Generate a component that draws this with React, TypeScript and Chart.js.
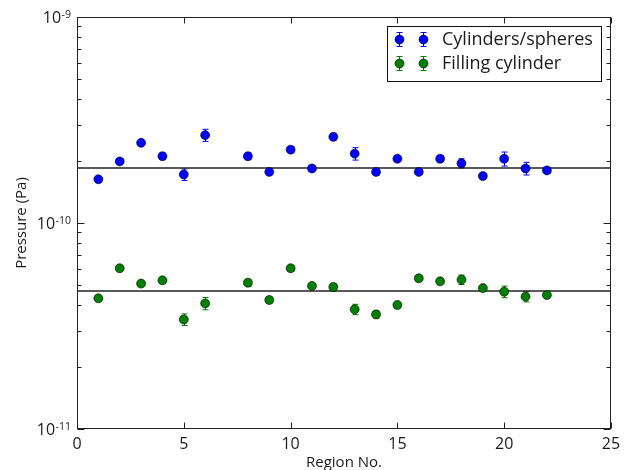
import React, { useEffect, useRef } from "react";
import { Chart, registerables } from "chart.js";

Chart.register(...registerables);

// ---- data ----
const regions = [1, 2, 3, 4, 5, 6, 8, 9, 10, 11, 12, 13, 14, 15, 16, 17, 18, 19, 20, 21, 22];
const cylSpheres = [
  1.63e-10, 1.99e-10, 2.45e-10, 2.11e-10, 1.72e-10, 2.67e-10, 2.11e-10, 1.77e-10, 2.27e-10, 1.84e-10,
  2.62e-10, 2.17e-10, 1.77e-10, 2.05e-10, 1.77e-10, 2.05e-10, 1.95e-10, 1.69e-10, 2.05e-10, 1.84e-10, 1.8e-10,
];
const cylSpheresErr = [
  0.04e-10, 0.05e-10, 0.07e-10, 0.08e-10, 0.11e-10, 0.18e-10, 0.08e-10, 0.06e-10, 0.08e-10, 0.04e-10,
  0.1e-10, 0.15e-10, 0.07e-10, 0.05e-10, 0.05e-10, 0.07e-10, 0.1e-10, 0.04e-10, 0.16e-10, 0.13e-10, 0.06e-10,
];
const fillingCyl = [
  4.31e-11, 6.03e-11, 5.08e-11, 5.27e-11, 3.4e-11, 4.07e-11, 5.13e-11, 4.23e-11, 6.03e-11, 4.95e-11,
  4.89e-11, 3.81e-11, 3.6e-11, 4.0e-11, 5.39e-11, 5.21e-11, 5.31e-11, 4.83e-11, 4.64e-11, 4.39e-11, 4.47e-11,
];
const fillingCylErr = [
  0.1e-11, 0.15e-11, 0.15e-11, 0.15e-11, 0.22e-11, 0.28e-11, 0.2e-11, 0.15e-11, 0.2e-11, 0.12e-11,
  0.2e-11, 0.22e-11, 0.15e-11, 0.1e-11, 0.15e-11, 0.12e-11, 0.28e-11, 0.1e-11, 0.3e-11, 0.25e-11, 0.12e-11,
];
const cylSpheresMean = 1.85e-10;
const fillingCylMean = 4.68e-11;
const xTicks = [0, 5, 10, 15, 20, 25];
const yExponents = [-11, -10, -9];
const seriesNames = ["Cylinders/spheres", "Filling cylinder"];
const xTitle = "Region No.";
const yTitle = "Pressure (Pa)";

const BLUE = "#0000ff";
const GREEN = "#008000";
const TEXT = "#1a1a1a";
const FONT = "'Open Sans', 'DejaVu Sans', sans-serif";

function drawMarker(ctx: CanvasRenderingContext2D, x: number, y: number, color: string, r: number) {
  ctx.beginPath();
  ctx.arc(x, y, r, 0, Math.PI * 2);
  ctx.fillStyle = color;
  ctx.fill();
  ctx.lineWidth = 0.6;
  ctx.strokeStyle = "#000";
  ctx.stroke();
}

function drawErrBar(ctx: CanvasRenderingContext2D, x: number, yTop: number, yBot: number, color: string, cap: number) {
  ctx.strokeStyle = color;
  ctx.lineWidth = 1;
  ctx.beginPath();
  ctx.moveTo(x, yTop);
  ctx.lineTo(x, yBot);
  ctx.moveTo(x - cap, yTop);
  ctx.lineTo(x + cap, yTop);
  ctx.moveTo(x - cap, yBot);
  ctx.lineTo(x + cap, yBot);
  ctx.stroke();
}

const errorBarPlugin = {
  id: "errorBars",
  beforeDatasetsDraw(chart: any) {
    const { ctx } = chart;
    const xs = chart.scales.x;
    const ys = chart.scales.y;
    ctx.save();
    chart.data.datasets.forEach((ds: any) => {
      if (!ds.errors) return;
      ds.data.forEach((p: any, i: number) => {
        const e = ds.errors[i];
        const x = Math.round(xs.getPixelForValue(p.x)) + 0.5;
        const yT = ys.getPixelForValue(p.y + e);
        const yB = ys.getPixelForValue(p.y - e);
        drawErrBar(ctx, x, yT, yB, ds.backgroundColor, 3);
      });
    });
    ctx.restore();
  },
};

const framePlugin = {
  id: "frame",
  afterDraw(chart: any) {
    const { ctx, chartArea: a } = chart;
    const xs = chart.scales.x;
    const ys = chart.scales.y;
    ctx.save();
    ctx.strokeStyle = "#222";
    ctx.lineWidth = 1;
    const L = Math.round(a.left) + 0.5;
    const R = Math.round(a.right) - 0.5;
    const T = Math.round(a.top) + 0.5;
    const B = Math.round(a.bottom) - 0.5;
    ctx.strokeRect(L, T, R - L, B - T);
    ctx.beginPath();
    // x ticks (inward, top and bottom)
    xTicks.forEach((v) => {
      const x = Math.round(xs.getPixelForValue(v)) + 0.5;
      ctx.moveTo(x, B);
      ctx.lineTo(x, B - 6);
      ctx.moveTo(x, T);
      ctx.lineTo(x, T + 6);
    });
    // y ticks major + minor
    for (let e = yExponents[0]; e <= yExponents[yExponents.length - 1]; e++) {
      for (let m = 1; m <= 9; m++) {
        const v = m * Math.pow(10, e);
        if (v > ys.max * 1.0001) continue;
        const y = Math.round(ys.getPixelForValue(v)) + 0.5;
        const len = m === 1 ? 7 : 4;
        ctx.moveTo(L, y);
        ctx.lineTo(L + len, y);
        ctx.moveTo(R, y);
        ctx.lineTo(R - len, y);
      }
    }
    ctx.stroke();

    // y tick labels 10^n
    ctx.fillStyle = TEXT;
    yExponents.forEach((e) => {
      const y = ys.getPixelForValue(Math.pow(10, e));
      const supText = e < 0 ? "-" + String(-e) : String(e);
      ctx.font = `10.5px ${FONT}`;
      const sw = ctx.measureText(supText).width;
      const rightX = a.left - 6;
      ctx.textAlign = "right";
      ctx.textBaseline = "alphabetic";
      ctx.fillText(supText, rightX, y + 0.5);
      ctx.font = `16px ${FONT}`;
      ctx.fillText("10", rightX - sw - 0.5, y + 5.7);
    });

    // legend
    const bx = 387.5, by = 26.5, bw = 214, bh = 55;
    ctx.fillStyle = "#fff";
    ctx.fillRect(bx, by, bw, bh);
    ctx.strokeStyle = "#111";
    ctx.lineWidth = 1;
    ctx.strokeRect(bx, by, bw, bh);
    const rows = [
      { name: seriesNames[0], color: BLUE, y: 39.5 },
      { name: seriesNames[1], color: GREEN, y: 63.5 },
    ];
    rows.forEach((r) => {
      [399.5, 423.5].forEach((mx) => {
        drawErrBar(ctx, mx, r.y - 7, r.y + 7, r.color, 3);
        drawMarker(ctx, mx, r.y, r.color, 4.5);
      });
      ctx.fillStyle = TEXT;
      ctx.font = `18px ${FONT}`;
      ctx.textAlign = "left";
      ctx.textBaseline = "middle";
      ctx.fillText(r.name, 442, r.y + 0.5);
    });
    ctx.restore();
  },
};

export default function App() {
  const ref = useRef<HTMLCanvasElement | null>(null);
  useEffect(() => {
    if (!ref.current) return;
    const mk = (ys: number[]) => regions.map((x, i) => ({ x, y: ys[i] }));
    const chart = new Chart(ref.current, {
      type: "scatter",
      data: {
        datasets: [
          {
            type: "line",
            label: "cylMean",
            data: [{ x: xTicks[0], y: cylSpheresMean }, { x: xTicks[xTicks.length - 1], y: cylSpheresMean }],
            borderColor: "#222",
            borderWidth: 1.4,
            pointRadius: 0,
            order: 3,
          } as any,
          {
            type: "line",
            label: "fillMean",
            data: [{ x: xTicks[0], y: fillingCylMean }, { x: xTicks[xTicks.length - 1], y: fillingCylMean }],
            borderColor: "#222",
            borderWidth: 1.4,
            pointRadius: 0,
            order: 3,
          } as any,
          {
            label: seriesNames[0],
            data: mk(cylSpheres),
            errors: cylSpheresErr,
            backgroundColor: BLUE,
            borderColor: "#000",
            borderWidth: 0.6,
            pointRadius: 4.5,
            order: 1,
          } as any,
          {
            label: seriesNames[1],
            data: mk(fillingCyl),
            errors: fillingCylErr,
            backgroundColor: GREEN,
            borderColor: "#000",
            borderWidth: 0.6,
            pointRadius: 4.5,
            order: 2,
          } as any,
        ],
      },
      options: {
        animation: false,
        responsive: false,
        maintainAspectRatio: false,
        layout: { padding: { top: 17, right: 18, left: 0, bottom: 0 } },
        plugins: { legend: { display: false }, tooltip: { enabled: false } },
        scales: {
          x: {
            type: "linear",
            min: 0,
            max: 25,
            afterBuildTicks: (s: any) => {
              s.ticks = xTicks.map((v) => ({ value: v }));
            },
            grid: { display: false, drawTicks: false },
            border: { display: false },
            ticks: { font: { family: FONT, size: 16 }, color: TEXT, padding: 6, maxRotation: 0, autoSkip: false },
            title: {
              display: true,
              text: xTitle,
              font: { family: FONT, size: 15, lineHeight: 1 },
              color: TEXT,
              padding: { top: 0, bottom: 0 },
            },
            afterFit: (s: any) => {
              s.height = 41;
            },
          },
          y: {
            type: "logarithmic",
            min: 1e-11,
            max: 1e-9,
            grid: { display: false, drawTicks: false },
            border: { display: false },
            ticks: { display: false },
            title: {
              display: true,
              text: yTitle,
              font: { family: FONT, size: 15, lineHeight: 1 },
              color: TEXT,
              padding: { top: 14, bottom: 0 },
            },
            afterFit: (s: any) => {
              s.width = 77;
            },
          },
        },
      } as any,
      plugins: [errorBarPlugin, framePlugin],
    });
    return () => chart.destroy();
  }, []);
  return (
    <div style={{ position: "fixed", left: 0, top: 0, width: 629, height: 470, background: "#fff" }}>
      <canvas ref={ref} width={629} height={470} style={{ width: 629, height: 470, display: "block" }} />
    </div>
  );
}
